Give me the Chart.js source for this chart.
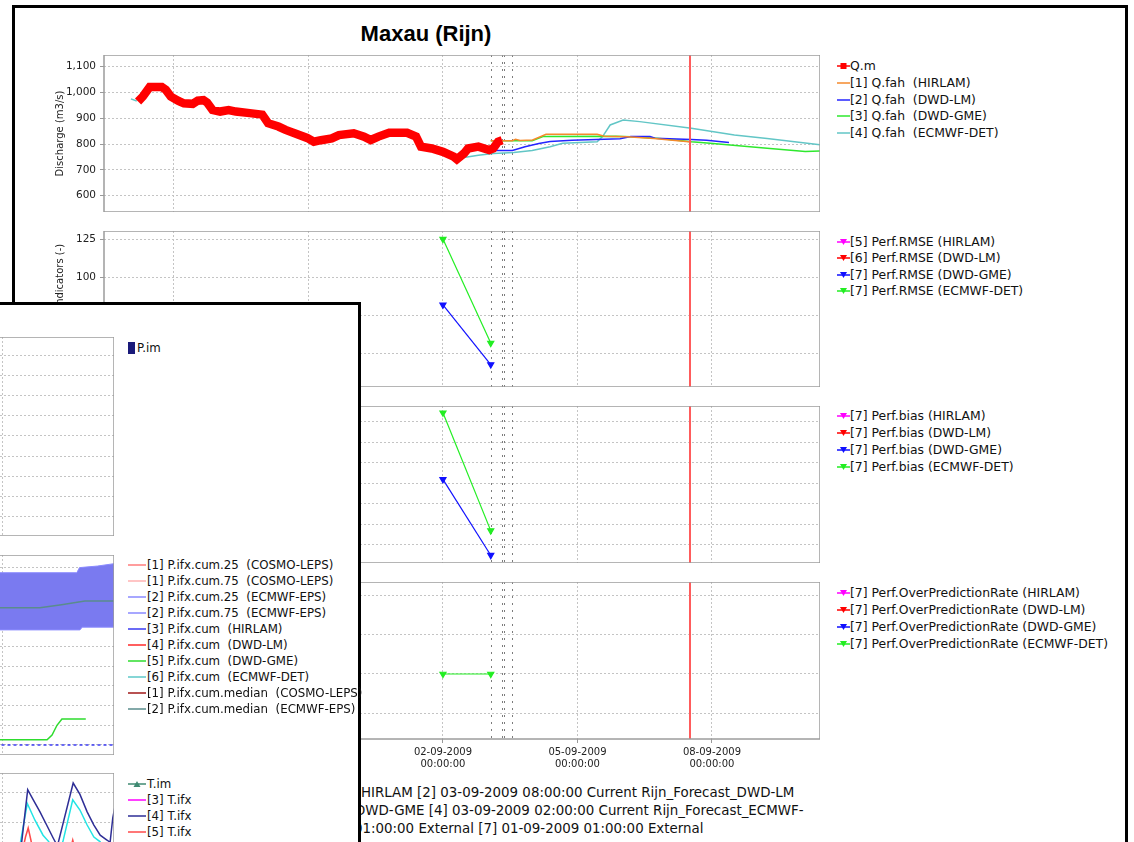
<!DOCTYPE html>
<html>
<head>
<meta charset="utf-8">
<title>Maxau (Rijn)</title>
<script src="https://cdn.jsdelivr.net/npm/chart.js@4.4.1/dist/chart.umd.min.js"></script>
<style>
  html, body { margin: 0; padding: 0; background: #fff; }
  body { position: relative; width: 1134px; height: 842px; overflow: hidden; font-family: "DejaVu Sans", sans-serif; color: #111; }
  .frame { position: absolute; background: #fff; border: 3px solid #000; }
  #mainFrame { left: 12px; top: 5px; width: 1110px; height: 900px; z-index: 1; }
  #popFrame { left: -3px; top: 302px; width: 358px; height: 600px; z-index: 10; }
  #title { position: absolute; left: 0; top: 21px; width: 852px; text-align: center; font: bold 22px "Liberation Sans", Arial, sans-serif; color: #000; z-index: 2; }
  .legtext { position: absolute; white-space: pre; color: #111; }
  .footer { position: absolute; z-index: 2; font-size: 13.4px; line-height: 18px; white-space: pre; color: #111; }
</style>
</head>
<body>
<div id="mainFrame" class="frame"></div>
<div id="title">Maxau (Rijn)</div>
<div id="popFrame" class="frame"></div>
<div class="footer" style="left:361px;top:784px">HIRLAM [2] 03-09-2009 08:00:00 Current Rijn_Forecast_DWD-LM</div>
<div class="footer" style="left:355px;top:802px">DWD-GME [4] 03-09-2009 02:00:00 Current Rijn_Forecast_ECMWF-</div>
<div class="footer" style="left:354px;top:820px">01:00:00 External [7] 01-09-2009 01:00:00 External</div>

<script>
// =========================================================================
// DATA  (time = days after 01-09-2009 00:00)
// =========================================================================
const dateTicks = [-5, -2, 1, 4, 7];
const forecastTimes = [2.066, 2.31, 2.36, 2.545];
const currentTime = 6.51;

// Panel 1 - discharge (m3/s)
const qTicks = [600, 700, 800, 900, 1000, 1100];
const qmTime = [-5.80, -5.69, -5.54, -5.27, -5.18, -5.07, -4.90, -4.78, -4.58, -4.47,
                -4.34, -4.26, -4.14, -3.97, -3.78, -3.62, -3.31, -3.03, -2.90, -2.67,
                -2.51, -2.28, -2.03, -1.88, -1.72, -1.48, -1.32, -0.99, -0.76, -0.61,
                -0.44, -0.20, 0.20, 0.40, 0.51, 0.75, 1.00, 1.24, 1.31, 1.47,
                1.56, 1.79, 2.03, 2.12, 2.23, 2.32];
const qmValue = [965, 985, 1021, 1021, 1010, 984, 967, 958, 956, 968,
                 970, 961, 932, 926, 932, 926, 920, 914, 881, 868,
                 855, 840, 824, 809, 815, 822, 835, 842, 829, 816,
                 829, 844, 844, 829, 790, 783, 770, 751, 741, 764,
                 783, 790, 777, 783, 809, 815];
const hirlamTime = [2.066, 2.55, 2.62, 2.72, 3.0, 3.30, 4.44, 4.6, 5.1, 5.71, 6.12, 6.54];
const hirlamValue = [813, 813, 819, 814, 816, 838, 838, 830, 828, 822, 815, 808];
const dwdLmTime = [2.066, 2.55, 2.83, 3.14, 3.39, 3.88, 4.95, 5.19, 5.62, 5.73, 6.54, 6.88, 7.38];
const dwdLmValue = [775, 775, 790, 802, 810, 815, 821, 829, 829, 823, 818, 815, 806];
const dwdGmeTime = [2.066, 2.99, 3.23, 4.86, 5.19, 5.84, 6.54, 6.96, 8.23, 9.08, 9.41];
const dwdGmeValue = [813, 813, 829, 830, 828, 822, 809, 803, 784, 771, 773];
const ecmwfTime = [-5.96, -5.83, -5.7, 1.47, 1.79, 2.12, 2.58, 2.99, 3.39, 3.67, 4.44, 4.56,
                   4.73, 5.02, 5.39, 6.54, 7.5, 8.23, 9.41];
const ecmwfValue = [975, 967, null, 748, 757, 764, 767, 775, 790, 803, 809, 829,
                    874, 893, 887, 861, 835, 822, 797];

// Panels 2-4 - performance indicators
const perfTime = [1.0, 2.066];
const rmseTicks = [50, 75, 100, 125];
const rmseGme = [82, 43];
const rmseEcmwf = [125, 57];
const biasTicks = [-40, -20, 0, 20, 40, 60, 80];
const biasGme = [24, -50];
const biasEcmwf = [89, -26];
const oprTicks = [0.25, 0.5, 0.75, 1];
const oprEcmwf = [0.5, 0.5];

// Popup window - precipitation and temperature
const popTicks = [1];
const pimTicks = [1, 2, 3, 4, 5, 6, 7, 8, 9];
const pCumTicks = [0, 5, 10, 15, 20, 25, 30, 35, 40, 45];
const epsLowTime = [-1.3, 2.71, 2.76, 3.47];
const epsLowValue = [29.2, 29.2, 29.9, 29.9];
const epsHighTime = [-1.3, 2.64, 2.70, 3.10, 3.47];
const epsHighValue = [43.7, 43.7, 45.0, 45.4, 46.0];
const epsMedTime = [-1.3, 1.82, 2.3, 2.82, 3.47];
const epsMedValue = [34.8, 34.8, 35.6, 36.5, 36.5];
const pHirlamTime = [-1.3, 3.47];
const pHirlamValue = [0, 0];
const pGmeTime = [-1.3, 1.98, 2.09, 2.2, 2.31, 2.84];
const pGmeValue = [1.3, 1.3, 2.5, 5.0, 6.6, 6.6];
const tTicks = [5, 10, 15, 20, 25];
const t4Time = [1.20, 1.416, 1.549, 1.673, 1.822, 1.97, 2.118, 2.21, 2.56, 2.71, 2.87, 3.02, 3.16, 3.31, 3.38, 3.44, 3.5];
const t4Value = [12.5, 16.7, 25.4, 23.7, 21.7, 19.5, 17.3, 16.0, 26.5, 24.6, 21.7, 19.5, 17.8, 17.0, 16.6, 20.7, 23.0];
const t5Time = [1.40, 1.50, 1.56, 1.62, 1.72, 2.0, 2.45, 2.55, 2.65];
const t5Value = [14.0, 17.5, 19.0, 17.0, 13.0, null, 14.0, 17.0, 14.0];
const t6Time = [1.30, 1.39, 1.54, 1.71, 1.89, 2.02, 2.15, 2.33, 2.55, 2.71, 2.87, 3.02, 3.16, 3.30];
const t6Value = [13.0, 16.7, 23.1, 20.3, 17.8, 16.7, 14.0, 16.7, 23.7, 22.0, 19.5, 17.5, 16.7, 14.0];

// =========================================================================
// HELPERS
// =========================================================================
const FONT = '"DejaVu Sans", sans-serif';
const GRID = '#c4c4c4';

function pts(xs, ys) {
    return xs.map((x, i) => ({ x: x, y: ys[i] }));
}

function dayLabel(d) {
    const t = new Date(Date.UTC(2009, 8, 1) + Math.round(d * 86400000));
    const p = n => String(n).padStart(2, '0');
    return [p(t.getUTCDate()) + '-' + p(t.getUTCMonth() + 1) + '-' + t.getUTCFullYear(),
            p(t.getUTCHours()) + ':' + p(t.getUTCMinutes()) + ':00'];
}

// plot frame, forecast time markers and the "now" line
const panelDecor = {
    id: 'panelDecor',
    beforeDatasetsDraw(chart, args, opts) {
        const { ctx, chartArea: a, scales: { x } } = chart;
        ctx.save();
        ctx.strokeStyle = '#7c7c7c';
        ctx.lineWidth = 1;
        ctx.setLineDash([2, 5]);
        (opts.marks || []).forEach(d => {
            const px = Math.round(x.getPixelForValue(d)) + 0.5;
            ctx.beginPath();
            ctx.moveTo(px, a.top);
            ctx.lineTo(px, a.bottom);
            ctx.stroke();
        });
        ctx.restore();
    },
    afterDatasetsDraw(chart, args, opts) {
        const { ctx, chartArea: a, scales: { x } } = chart;
        ctx.save();
        if (opts.now !== undefined) {
            const px = x.getPixelForValue(opts.now);
            ctx.strokeStyle = '#ff5c5c';
            ctx.lineWidth = 2;
            ctx.beginPath();
            ctx.moveTo(px, a.top);
            ctx.lineTo(px, a.bottom);
            ctx.stroke();
        }
        ctx.strokeStyle = '#9c9c9c';
        ctx.lineWidth = 1.5;
        ctx.strokeRect(a.left, a.top, a.right - a.left, a.bottom - a.top);
        ctx.restore();
    }
};

function makeCanvas(left, top, width, height, z) {
    const cv = document.createElement('canvas');
    cv.width = width;
    cv.height = height;
    cv.style.cssText = `position:absolute;left:${left}px;top:${top}px;z-index:${z}`;
    document.body.appendChild(cv);
    return cv;
}

function makeChart(cv, datasets, cfg) {
    return new Chart(cv.getContext('2d'), {
        type: 'line',
        data: { datasets: datasets },
        plugins: [panelDecor],
        options: {
            responsive: false,
            animation: false,
            events: [],
            layout: { padding: 0, autoPadding: false },
            elements: { line: { tension: 0, borderWidth: 1.5 }, point: { radius: 0 } },
            plugins: {
                legend: { display: false },
                tooltip: { enabled: false },
                filler: { drawTime: 'beforeDatasetsDraw' },
                panelDecor: { marks: cfg.marks, now: cfg.now }
            },
            scales: {
                x: {
                    type: 'linear',
                    min: cfg.xMin,
                    max: cfg.xMax,
                    afterBuildTicks: s => { s.ticks = cfg.xTicks.map(v => ({ value: v })); },
                    afterFit: s => { s.height = cfg.xHeight; s.paddingLeft = 0; s.paddingRight = 0; },
                    grid: { color: GRID, lineWidth: 1, drawTicks: cfg.xHeight > 0, tickLength: 4, tickColor: '#999' },
                    border: { display: false, dash: [2, 2] },
                    ticks: {
                        display: cfg.xHeight > 0, padding: 3, maxRotation: 0, autoSkip: false,
                        color: '#222', font: { family: FONT, size: 10 },
                        callback: v => dayLabel(v)
                    }
                },
                y: {
                    type: 'linear',
                    min: cfg.yMin,
                    max: cfg.yMax,
                    afterBuildTicks: s => { s.ticks = cfg.yTicks.map(v => ({ value: v })); },
                    afterFit: s => { s.width = cfg.yWidth; s.paddingTop = 0; s.paddingBottom = 0; },
                    grid: { color: GRID, lineWidth: 1, drawTicks: cfg.yWidth > 0, tickLength: 4, tickColor: '#999' },
                    border: { display: false, dash: [2, 2] },
                    title: {
                        display: !!cfg.yTitle, text: cfg.yTitle || '',
                        color: '#222', font: { family: FONT, size: 10 }, padding: { top: 10, bottom: 2 }
                    },
                    ticks: {
                        display: cfg.yWidth > 0, padding: 4, color: '#222',
                        font: { family: FONT, size: 10.5 },
                        callback: v => v.toLocaleString('en-US')
                    }
                }
            }
        }
    });
}

function drawSwatch(c, color, marker, w, h) {
    const m = h / 2;
    c.fillStyle = color;
    if (marker === 'box') {
        c.fillRect(0, 0, 7, h);
        return;
    }
    c.strokeStyle = color;
    c.lineWidth = 1.5;
    c.beginPath();
    c.moveTo(0, m);
    c.lineTo(w, m);
    c.stroke();
    const cx = w / 2;
    if (marker === 'square') {
        c.fillRect(cx - 3, m - 3, 6, 6);
    } else if (marker === 'down') {
        c.beginPath();
        c.moveTo(cx - 3.5, m - 3);
        c.lineTo(cx + 3.5, m - 3);
        c.lineTo(cx, m + 3);
        c.closePath();
        c.fill();
    } else if (marker === 'up') {
        c.beginPath();
        c.moveTo(cx - 3.5, m + 3);
        c.lineTo(cx + 3.5, m + 3);
        c.lineTo(cx, m - 3);
        c.closePath();
        c.fill();
    }
}

function addLegend(chart, x0, y0, step, swW, textX, fontSize, z) {
    chart.data.datasets.forEach((d, i) => {
        const cy = y0 + i * step;
        const cv = makeCanvas(x0, Math.round(cy - 6), swW, 12, z);
        drawSwatch(cv.getContext('2d'), d.legendColor || d.borderColor, d.marker, swW, 12);
        const t = document.createElement('div');
        t.className = 'legtext';
        t.textContent = d.label;
        t.style.cssText = `left:${textX}px;top:${(cy - 8).toFixed(1)}px;font-size:${fontSize}px;line-height:16px;z-index:${z}`;
        document.body.appendChild(t);
    });
}

function line(label, color, xs, ys, extra) {
    return Object.assign({ label: label, borderColor: color, backgroundColor: color, data: pts(xs, ys), spanGaps: false }, extra || {});
}

function perf(label, color, ys) {
    return line(label, color, perfTime, ys, {
        marker: 'down', borderWidth: 1.2, pointRadius: 3.5, pointStyle: 'triangle', rotation: 180,
        pointBackgroundColor: color, pointBorderColor: color
    });
}

// =========================================================================
// MAIN WINDOW
// =========================================================================
const mainX = { xMin: -6.56, xMax: 9.41, xTicks: dateTicks, marks: forecastTimes, now: currentTime, yWidth: 60 };

const chartQ = makeChart(makeCanvas(44, 55, 776, 157, 2), [
    line('Q.m', '#ff0000', qmTime, qmValue, { marker: 'square', borderWidth: 8.5, borderJoinStyle: 'miter' }),
    line('[1] Q.fah  (HIRLAM)', '#f58a2c', hirlamTime, hirlamValue),
    line('[2] Q.fah  (DWD-LM)', '#2424ff', dwdLmTime, dwdLmValue),
    line('[3] Q.fah  (DWD-GME)', '#2ee82e', dwdGmeTime, dwdGmeValue),
    line('[4] Q.fah  (ECMWF-DET)', '#62c6c6', ecmwfTime, ecmwfValue)
], Object.assign({}, mainX, { xHeight: 0, yMin: 537, yMax: 1145, yTicks: qTicks, yTitle: 'Discharge (m3/s)' }));

const chartRmse = makeChart(makeCanvas(44, 231, 776, 156, 2), [
    perf('[5] Perf.RMSE (HIRLAM)', '#ff00ff', []),
    perf('[6] Perf.RMSE (DWD-LM)', '#ff0000', []),
    perf('[7] Perf.RMSE (DWD-GME)', '#1010ff', rmseGme),
    perf('[7] Perf.RMSE (ECMWF-DET)', '#22ee22', rmseEcmwf)
], Object.assign({}, mainX, { xHeight: 0, yMin: 28.3, yMax: 130.3, yTicks: rmseTicks, yTitle: 'Performance indicators (-)' }));

const chartBias = makeChart(makeCanvas(44, 406, 776, 157, 2), [
    perf('[7] Perf.bias (HIRLAM)', '#ff00ff', []),
    perf('[7] Perf.bias (DWD-LM)', '#ff0000', []),
    perf('[7] Perf.bias (DWD-GME)', '#1010ff', biasGme),
    perf('[7] Perf.bias (ECMWF-DET)', '#22ee22', biasEcmwf)
], Object.assign({}, mainX, { xHeight: 0, yMin: -57.6, yMax: 95.6, yTicks: biasTicks }));

const chartOpr = makeChart(makeCanvas(44, 582, 776, 197, 2), [
    perf('[7] Perf.OverPredictionRate (HIRLAM)', '#ff00ff', []),
    perf('[7] Perf.OverPredictionRate (DWD-LM)', '#ff0000', []),
    perf('[7] Perf.OverPredictionRate (DWD-GME)', '#1010ff', []),
    perf('[7] Perf.OverPredictionRate (ECMWF-DET)', '#22ee22', oprEcmwf)
], Object.assign({}, mainX, { xHeight: 40, yMin: 0.0865, yMax: 1.085, yTicks: oprTicks }));

addLegend(chartQ, 837, 66, 16.8, 13, 850, 12.4, 2);
addLegend(chartRmse, 837, 242, 16.4, 13, 850, 12.4, 2);
addLegend(chartBias, 837, 416, 17, 13, 850, 12.4, 2);
addLegend(chartOpr, 837, 593, 17, 13, 850, 12.4, 2);

// =========================================================================
// POPUP WINDOW (precipitation / temperature)
// =========================================================================
const popX = { xMin: -1.289, xMax: 3.467, xTicks: popTicks, xHeight: 0, yWidth: 0 };

const chartPim = makeChart(makeCanvas(-100, 337, 214, 199, 11), [
    line('P.im', '#1a1a7a', [], [], { marker: 'box' })
], Object.assign({}, popX, { yMin: 0, yMax: 9.95, yTicks: pimTicks }));

const chartPcum = makeChart(makeCanvas(-100, 555, 214, 200, 11), [
    line('[1] P.ifx.cum.25  (COSMO-LEPS)', '#ff7c7c', [], []),
    line('[1] P.ifx.cum.75  (COSMO-LEPS)', '#ffb2b2', [], []),
    line('[2] P.ifx.cum.25  (ECMWF-EPS)', '#8a8aff', epsLowTime, epsLowValue, { borderWidth: 1 }),
    line('[2] P.ifx.cum.75  (ECMWF-EPS)', '#8a8aff', epsHighTime, epsHighValue, { borderWidth: 1, fill: '-1', backgroundColor: '#7a7af0' }),
    line('[3] P.ifx.cum  (HIRLAM)', '#3a3af2', pHirlamTime, pHirlamValue, { borderDash: [3, 3] }),
    line('[4] P.ifx.cum  (DWD-LM)', '#ff2a2a', [], []),
    line('[5] P.ifx.cum  (DWD-GME)', '#2edc2e', pGmeTime, pGmeValue),
    line('[6] P.ifx.cum  (ECMWF-DET)', '#5ec8c8', [], []),
    line('[1] P.ifx.cum.median  (COSMO-LEPS)', '#a01818', [], []),
    line('[2] P.ifx.cum.median  (ECMWF-EPS)', '#5a8c8c', epsMedTime, epsMedValue)
], Object.assign({}, popX, { yMin: -2.54, yMax: 48.2, yTicks: pCumTicks }));

const chartT = makeChart(makeCanvas(-100, 773, 214, 150, 11), [
    line('T.im', '#3f8a72', [], [], { marker: 'up' }),
    line('[3] T.ifx', '#ff00ff', [], []),
    line('[4] T.ifx', '#2e2e96', t4Time, t4Value),
    line('[5] T.ifx', '#ff4a4a', t5Time, t5Value),
    line('[6] T.ifx', '#22e4e4', t6Time, t6Value)
], Object.assign({}, popX, { yMin: 3.17, yMax: 28.17, yTicks: tTicks }));

addLegend(chartPim, 128, 348, 16, 8, 137, 11.8, 11);
addLegend(chartPcum, 128, 565, 16, 18, 147, 11.8, 11);
addLegend(chartT, 128, 784, 16, 18, 147, 11.8, 11);
</script>
</body>
</html>
